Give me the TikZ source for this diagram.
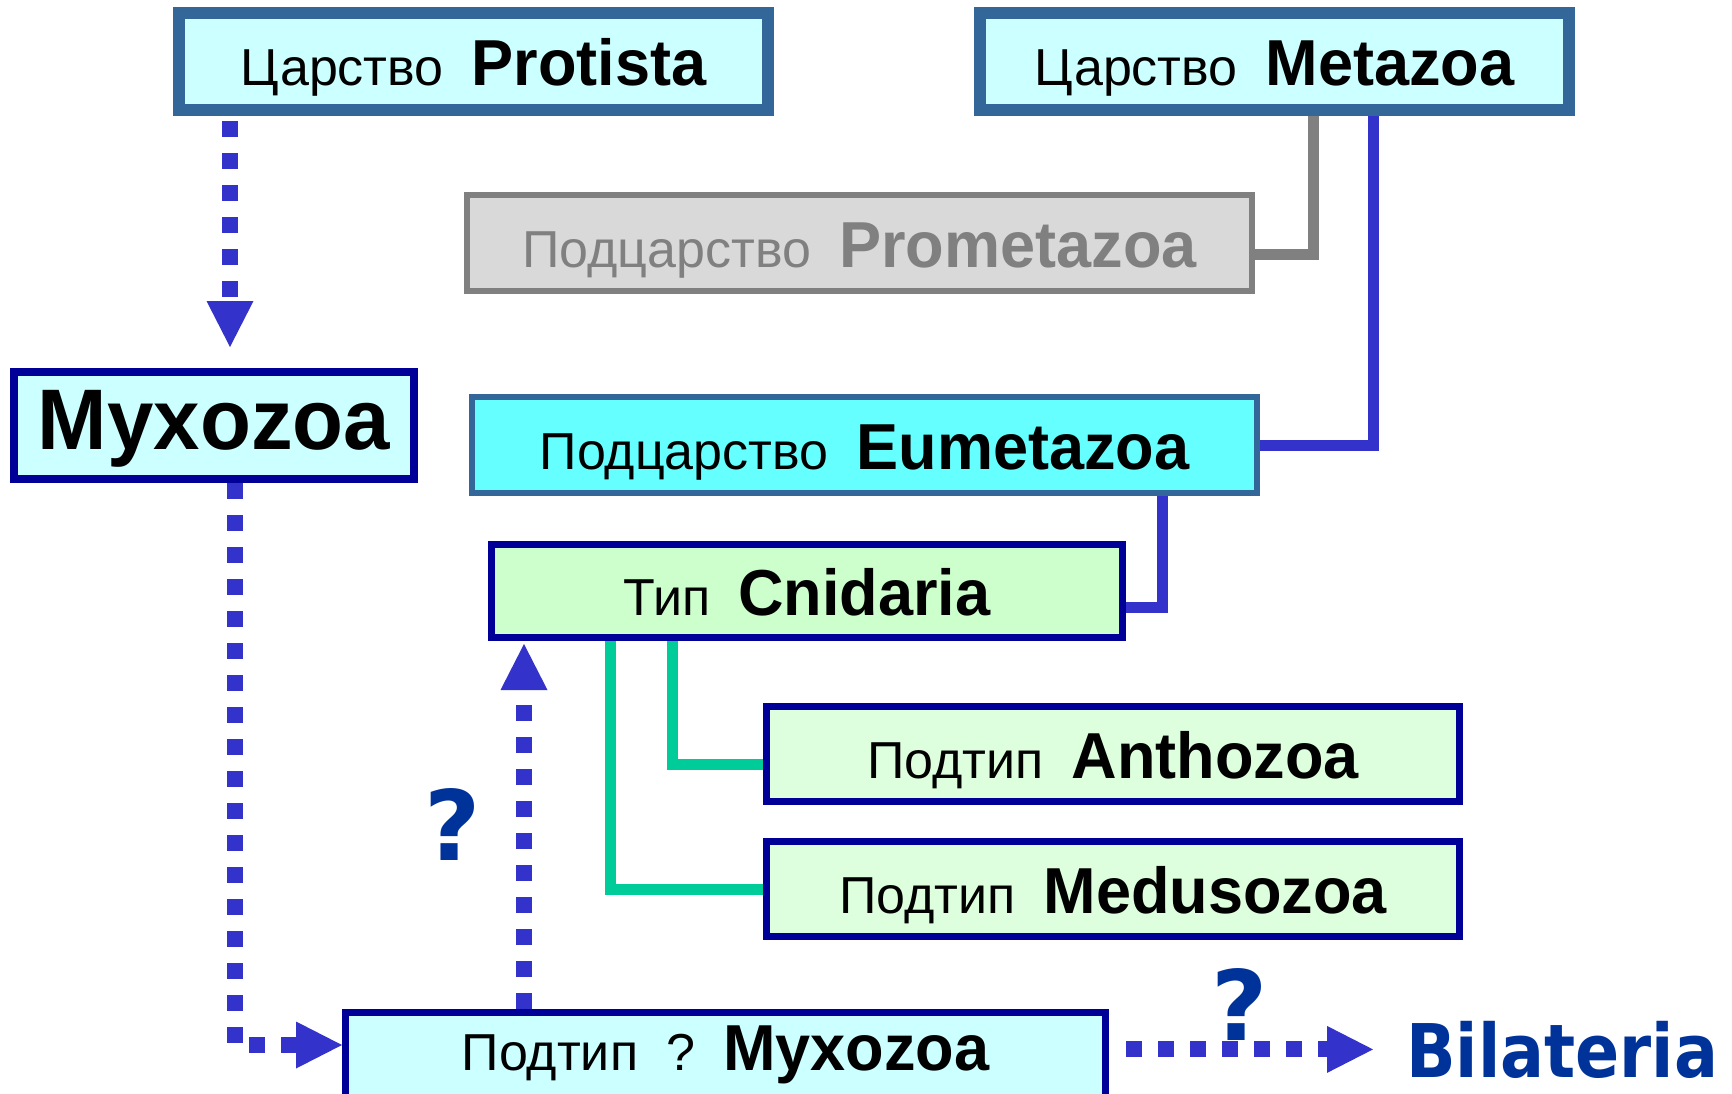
\documentclass[tikz,border=0pt]{standalone}
\usepackage{fontspec}
\setmainfont{Liberation Sans}
\newfontfamily\taxfont[FakeStretch=0.97]{Liberation Sans}
\newfontfamily\bilfont[FakeStretch=0.88]{DejaVu Sans}
\newfontfamily\qmfont{DejaVu Sans}
\usetikzlibrary{arrows.meta,calc}

\definecolor{steel}{HTML}{336699}
\definecolor{navy}{HTML}{000099}
\definecolor{palecyan}{HTML}{CCFFFF}
\definecolor{brightcyan}{HTML}{66FFFF}
\definecolor{promfill}{HTML}{D9D9D9}
\definecolor{promgray}{HTML}{808080}
\definecolor{cnidfill}{HTML}{CCFFCC}
\definecolor{subfill}{HTML}{DDFFDD}
\definecolor{linkblue}{HTML}{3333CC}
\definecolor{linkgreen}{HTML}{00CC99}
\definecolor{titleblue}{HTML}{003399}

\newcommand{\rankname}[1]{{\fontsize{52}{60}\selectfont #1}}
\newcommand{\taxname}[1]{{\taxfont\fontsize{65}{72}\selectfont\bfseries #1}}
\newcommand{\gap}{\hspace{28pt}}

\begin{document}
\begin{tikzpicture}[x=1pt, y=-1pt,
    taxon/.style={rectangle, inner sep=0pt, text height=48pt, text depth=0pt, minimum height=96pt},
    kingdom/.style={taxon, draw=steel, line width=12pt, fill=palecyan, minimum width=589pt, minimum height=97pt},
    subkingdom/.style={taxon, line width=6pt, minimum width=785pt},
    phylum/.style={taxon, draw=navy, line width=7pt},
    link/.style={line width=11pt},
    dots/.style={draw=linkblue, line width=16pt, dash pattern=on 16pt off 16pt,
        -{Triangle[length=46pt, width=47pt, line width=0pt]}},
    query/.style={text=titleblue, inner sep=0pt, font=\qmfont\bfseries\fontsize{97}{100}\selectfont}]
  \useasboundingbox (0,0) rectangle (1732,1094);
  \clip (0,0) rectangle (1732,1094);

  % Kingdoms
  \node[kingdom] (protista) at (473.5,61.5) {\rankname{Царство}\gap\taxname{Protista}};
  \node[kingdom] (metazoa) at (1274.5,61.5) {\rankname{Царство}\gap\taxname{Metazoa}};

  % Subkingdoms
  \node[subkingdom, draw=promgray, fill=promfill, text=promgray] (prometazoa) at (859.5,243) {\rankname{Подцарство}\gap\taxname{Prometazoa}};
  \node[subkingdom, draw=steel, fill=brightcyan] (eumetazoa) at (864.5,445) {\rankname{Подцарство}\gap\taxname{Eumetazoa}};

  % Myxozoa
  \node[taxon, draw=navy, line width=8pt, fill=palecyan, minimum width=400pt, minimum height=107pt] (myxozoa) at (214,425.5) {\taxfont\fontsize{86}{90}\selectfont\bfseries Myxozoa};

  % Cnidaria and subtypes
  \node[phylum, fill=cnidfill, minimum width=631pt, minimum height=93pt] (cnidaria) at (807,591) {\rankname{Тип}\gap\taxname{Cnidaria}};
  \node[phylum, fill=subfill, minimum width=693pt, minimum height=95pt] (anthozoa) at (1113,754) {\rankname{Подтип}\gap\taxname{Anthozoa}};
  \node[phylum, fill=subfill, minimum width=693pt, minimum height=95pt] (medusozoa) at (1113,889) {\rankname{Подтип}\gap\taxname{Medusozoa}};
  \node[phylum, fill=palecyan, minimum width=760pt, text depth=28pt] (subtype) at (725.5,1060) {\rankname{Подтип\gap?}\gap\taxname{Myxozoa}};

  \node[text=titleblue, inner sep=0pt, anchor=base west, font=\bilfont\bfseries\fontsize{74}{80}\selectfont] (bilateria) at (1406,1077) {Bilateria};
  \node[query] (q1) at (453,824.5) {?};
  \node[query] (q2) at (1240,1004.5) {?};

  % Tree links
  \draw[link, promgray] ($(metazoa.south)+(38.5,0)$) |- ($(prometazoa.east)+(0,11)$);
  \draw[link, linkblue] ($(metazoa.south)+(98.5,0)$) |- (eumetazoa.east);
  \draw[link, linkblue] ($(eumetazoa.south)+(297.5,0)$) |- ($(cnidaria.east)+(0,16)$);
  \draw[link, linkgreen] ($(cnidaria.south)+(-135,0)$) |- ($(anthozoa.west)+(0,10)$);
  \draw[link, linkgreen] ($(cnidaria.south)+(-197,0)$) |- (medusozoa.west);

  % Dotted arrows
  \coordinate (pdrop) at ($(protista.south)+(-243.5,0)$);
  \draw[dots, shorten <=5pt, shorten >=21pt] (pdrop) -- (pdrop |- myxozoa.north);
  \coordinate (mdrop) at ($(myxozoa.south)+(21,0)$);
  \draw[dots] (mdrop) |- ($(subtype.west)+(0,-15)$);
  \coordinate (srise) at ($(subtype.north)+(-201.5,0)$);
  \draw[dots, shorten >=3pt] (srise) -- (srise |- cnidaria.south);
  \draw[dots, shorten <=17pt, shorten >=33pt] (subtype.east |- bilateria.west) -- (bilateria.west);
\end{tikzpicture}
\end{document}
